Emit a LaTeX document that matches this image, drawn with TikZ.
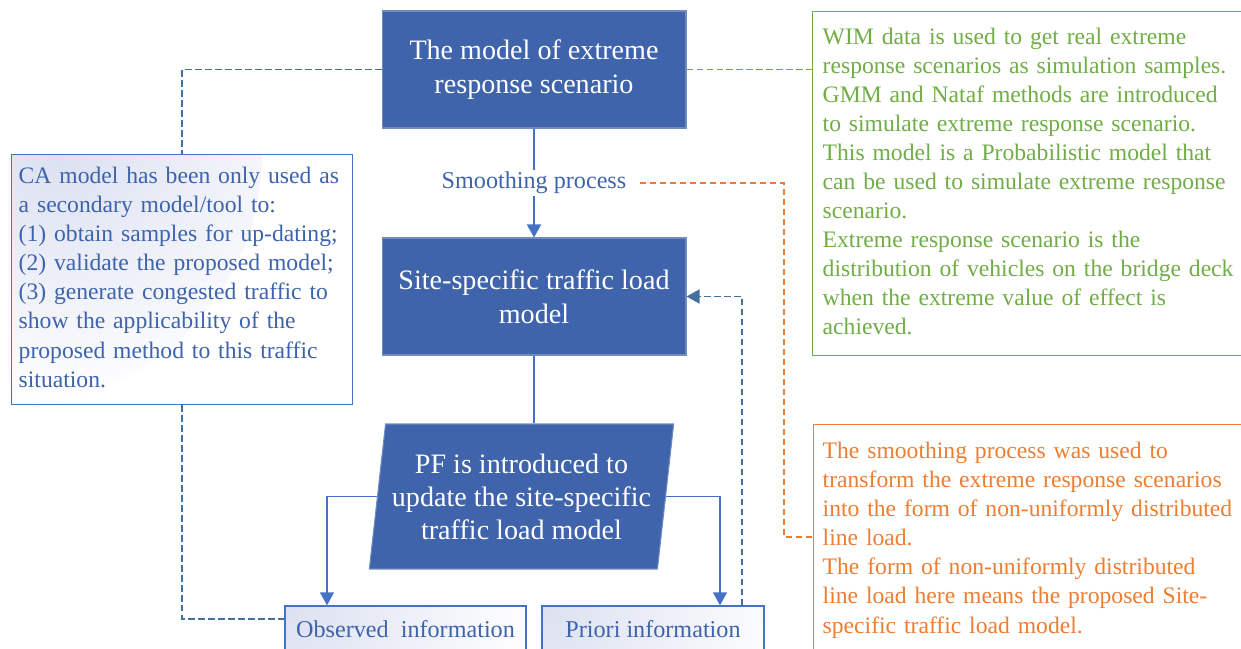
\documentclass[tikz,border=0pt]{standalone}
\usepackage{fontspec}
\setmainfont{Liberation Serif}
\usetikzlibrary{arrows.meta,shapes.geometric,calc}
\definecolor{boxblue}{HTML}{3F64AB}
\definecolor{lineblue}{HTML}{4472C4}
\definecolor{dashblue}{HTML}{41719C}
\definecolor{txtblue}{HTML}{3E63AD}
\definecolor{wimgreen}{HTML}{70AD47}
\definecolor{smorange}{HTML}{ED7D31}
\definecolor{shadeblue}{HTML}{DCE1F1}
\begin{document}
\begin{tikzpicture}
[x=0.02cm,y=-0.02cm,>={Triangle[width=0.28cm,length=0.26cm]},
 mainbox/.style = {draw=boxblue!75!white, fill=boxblue, text=white, align=center, line width=0.6pt, font=\fontsize{16}{19.4}\selectfont},
 note/.style = {draw, line width=0.8pt, align=left, anchor=north west, font=\fontsize{13.45}{16.55}\selectfont},
 infobox/.style = {draw=lineblue, line width=0.8pt, fill=white, path picture={\shade [inner color=shadeblue, outer color=white] (path picture bounding box.north west) circle (5cm);}, text=txtblue, font=\fontsize{13.75}{16.55}\selectfont},
 link/.style = {draw=lineblue, line width=0.85pt},
 dashlink/.style = {line width=0.95pt, dash pattern=on 0.13cm off 0.07cm},
]
\useasboundingbox (0,0) rectangle (1241,649);

\node (top) at (534,69.5) [mainbox, minimum width=6.08cm, minimum height=2.34cm] {The model of extreme\\response scenario};
\node (smooth) at (534,183) [text=txtblue, inner xsep=0.26cm, inner ysep=0.04cm, font=\fontsize{13.75}{16.55}\selectfont] {Smoothing process};
\node (site) at (534,296.5) [mainbox, minimum width=6.08cm, minimum height=2.34cm] {Site-specific traffic load\\model};
\node (pf) at (521.5,496.5) [mainbox, trapezium, trapezium left angle=80.6, trapezium right angle=99.4, trapezium stretches=true, minimum width=6.1cm, minimum height=2.9cm, font=\fontsize{16}{18.8}\selectfont] {PF is introduced to\\update the site-specific\\traffic load model};

\node (ca) at (11,154) [infobox, note, draw=lineblue, text width=6.54cm, inner xsep=0.14cm, inner ysep=0.17cm, minimum height=4.98cm] {\strut CA model has been only used as\\a secondary model/tool to:\\(1) obtain samples for up-dating;\\(2) validate the proposed model;\\(3) generate congested traffic to\\show the applicability of the\\proposed method to this traffic\\situation.\strut};
\node (obs) at (405.5,629) [infobox, minimum width=4.82cm, minimum height=0.92cm] {Observed\ \ information};
\node (pri) at (653,629) [infobox, minimum width=4.44cm, minimum height=0.92cm] {Priori information};

\node (wim) at (812,11) [note, draw=wimgreen, text=wimgreen, text width=8.8cm, inner xsep=0.2cm, inner ysep=0.24cm, minimum height=6.88cm] {\strut WIM data is used to get real extreme\\response scenarios as simulation samples.\\GMM and Nataf methods are introduced\\to simulate extreme response scenario.\\This model is a Probabilistic model that\\can be used to simulate extreme response\\scenario.\\Extreme response scenario is the\\distribution of vehicles on the bridge deck\\when the extreme value of effect is\\achieved.\strut};
\node (sp) at (813,424) [note, draw=smorange, text=smorange, text width=8.8cm, inner xsep=0.18cm, inner ysep=0.27cm] {\strut The smoothing process was used to\\transform the extreme response scenarios\\into the form of non-uniformly distributed\\line load.\\The form of non-uniformly distributed\\line load here means the proposed Site-\\specific traffic load model.\strut};

\draw [link] (top) -- (smooth);
\draw [link,->] (smooth) -- (site);
\draw [link] (site) -- (site.south |- pf.north);
\draw [link,->] (pf.west) -| ([xshift=-1.57cm]obs.north);
\draw [link,->] (pf.east) -| ([xshift=1.34cm]pri.north);

\draw [dashlink,dashblue] (top.west) -| (ca.north);
\draw [dashlink,dashblue] (ca.south) |- ([yshift=0.2cm]obs.west);
\draw [dashlink,dashblue,->] ([xshift=1.78cm]pri.north) |- (site.east);
\draw [dashlink,wimgreen] (top.east) -- (top.east -| wim.west);
\coordinate (bend) at (784,537);
\draw [dashlink,smorange] (smooth.east) -| (bend) -- (bend -| sp.west);

\end{tikzpicture}
\end{document}
